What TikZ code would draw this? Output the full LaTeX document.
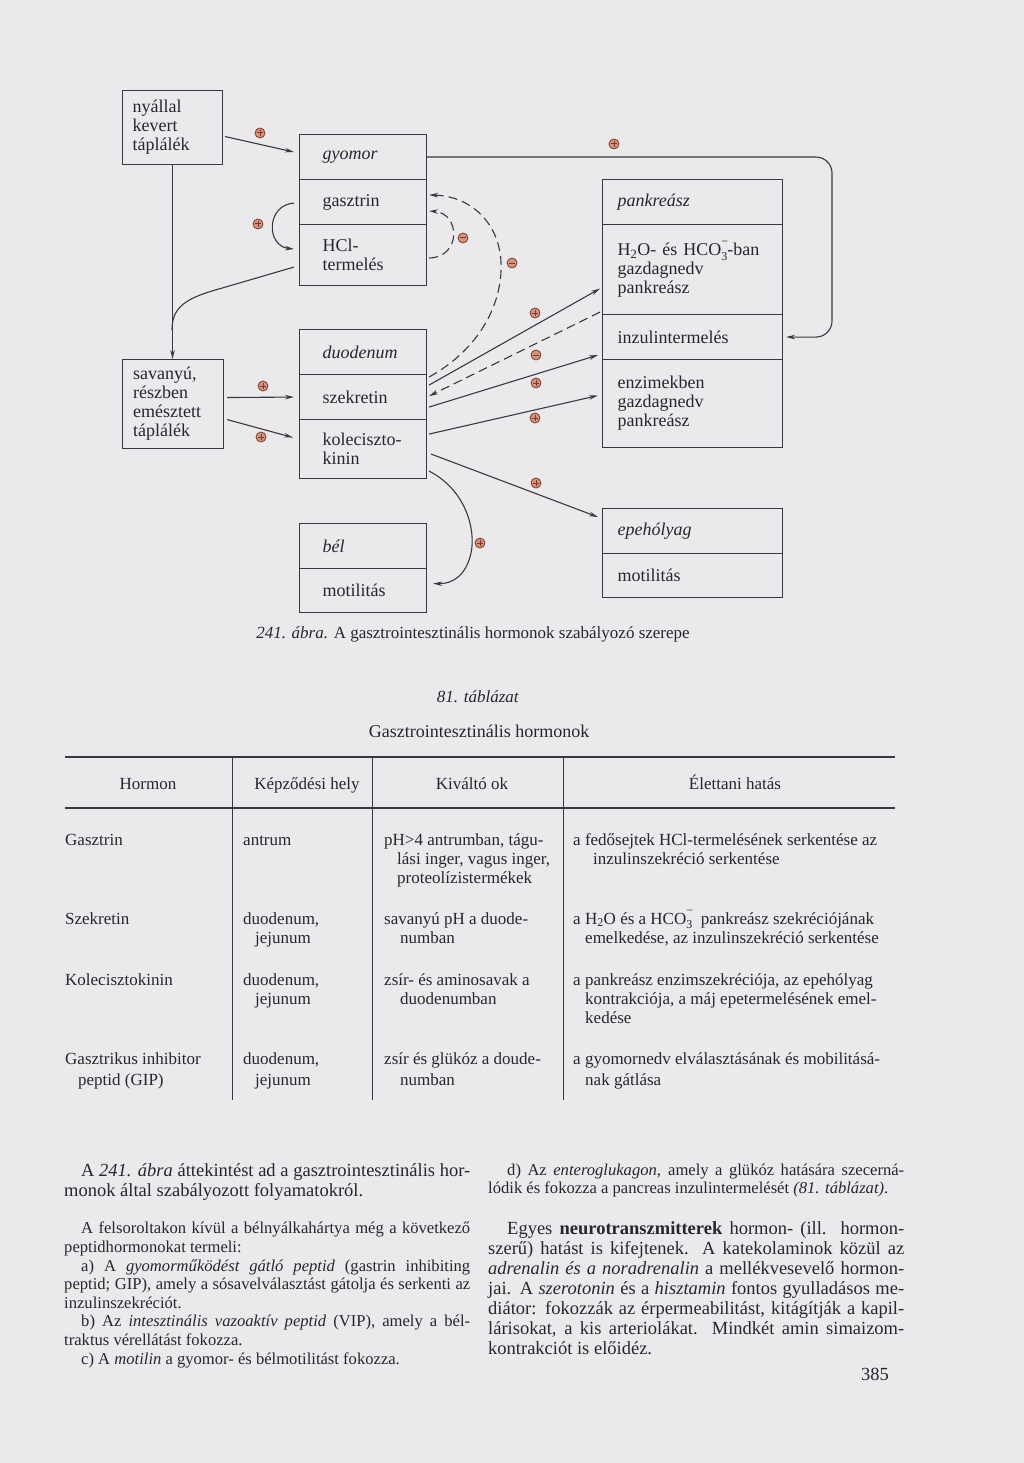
\documentclass[tikz,border=0pt]{standalone}
\usepackage{fontspec}
\setmainfont{Liberation Serif}
\usetikzlibrary{arrows.meta,calc}
\definecolor{paper}{RGB}{236,233,237}
\definecolor{ink}{RGB}{40,38,42}
\definecolor{lc}{RGB}{58,56,60}
\definecolor{sgnd}{RGB}{130,55,40}
\definecolor{sgnf}{RGB}{206,150,128}
\newcommand{\dfont}{\fontsize{18}{19}\selectfont}
\newcommand{\tfont}{\fontsize{17}{19}\selectfont}
\newcommand{\bigtxt}{\fontsize{18.5}{20}\selectfont}
\newcommand{\smtxt}{\fontsize{16.6}{18.7}\selectfont}
\newcommand{\ionthree}{\rlap{\raisebox{0.55em}{\fontsize{12}{12}\selectfont −}}\raisebox{-0.25em}{\fontsize{12}{12}\selectfont 3}}
\newcommand{\tcell}[4]{\node[tcs] (#1) at (#2,#3) {#4};}
\tikzset{
  rowA/.style={draw=lc, line width=1.1pt, anchor=north west, inner sep=0pt,
    minimum width=127pt, text width=81pt, align=left, font=\dfont, text=ink},
  rowP/.style={rowA, minimum width=180pt, text width=150pt},
  rowL/.style={rowA, minimum width=100pt, text width=80pt},
  arr/.style={-{Stealth[length=9pt,width=4.5pt]}, draw=lc, line width=1.1pt},
  ln/.style={draw=lc, line width=1.1pt},
  dsh/.style={dash pattern=on 9pt off 5pt},
  sgn/.style={circle, draw=sgnd, fill=sgnf, line width=0.8pt, minimum size=10pt, inner sep=0pt},
  plus/.style={sgn, path picture={\draw[sgnd, line width=1pt]
      ($(path picture bounding box.center)+(-3.3,0)$) -- ++(6.6,0)
      ($(path picture bounding box.center)+(0,-3.3)$) -- ++(0,6.6);}},
  minus/.style={sgn, path picture={\draw[sgnd, line width=1pt]
      ($(path picture bounding box.center)+(-3.3,0)$) -- ++(6.6,0);}},
  tcs/.style={anchor=base west, inner sep=0pt, font=\tfont, text=ink},
  jl/.style={anchor=base west, inner sep=0pt, text=ink},
  rule/.style={draw=lc, line width=1.0pt},
}
\begin{document}
\begin{tikzpicture}[x=1pt,y=-1pt]
\fill[paper] (0,0) rectangle (1024,1463);
\useasboundingbox (0,0) rectangle (1024,1463);

% ---------- diagram boxes ----------
\node[rowL, minimum height=74pt] (ny) at (122,90) {nyállal\\kevert\\táplálék};
\node[rowA, minimum height=45pt] (gy) at (299,134) {\textit{gyomor}};
\node[rowA, minimum height=45pt] (ga) at (299,179) {gasztrin};
\node[rowA, minimum height=61pt] (hcl) at (299,224) {HCl-\\termelés};
\node[rowL, minimum width=101pt, minimum height=89pt] (sav) at (122,359) {savanyú,\\részben\\emésztett\\táplálék};
\node[rowA, minimum height=45pt] (duo) at (299,329) {\textit{duodenum}};
\node[rowA, minimum height=45pt] (sz) at (299,374) {szekretin};
\node[rowA, minimum height=59pt] (kk) at (299,419) {koleciszto-\\kinin};
\node[rowA, minimum height=45pt] (bel) at (299,523) {\textit{bél}};
\node[rowA, minimum height=44pt] (mot) at (299,568) {motilitás};
\node[rowP, minimum height=45pt] (pk) at (602,179) {\textit{pankreász}};
\node[rowP, minimum height=90pt] (h2o) at (602,224) {H\textsubscript{2}O- és HCO\ionthree-ban\\gazdagnedv\\pankreász};
\node[rowP, minimum height=45pt] (inz) at (602,314) {inzulintermelés};
\node[rowP, minimum height=88pt] (enz) at (602,359) {enzimekben\\gazdagnedv\\pankreász};
\node[rowP, minimum height=45pt] (epe) at (602,508) {\textit{epehólyag}};
\node[rowP, minimum height=44pt] (emot) at (602,553) {motilitás};

% ---------- connectors ----------
\coordinate (merge) at (172,330);
\coordinate (rr) at (832,0);
\draw[arr] ($(ny.east)+(2,9)$) -- ($(gy.west)+(-5,-5)$);
\draw[arr] (ny.south) -- (ny.south |- sav.north);
\draw[ln] ($(hcl.west)+(-5,12)$) -- (212,291) .. controls (182,300) and (172,310) .. (merge);
\draw[arr] ($(ga.west)+(-5,1)$) .. controls (266,205) and (266,246) .. ($(hcl.west)+(-5,-6)$);
\draw[arr,dsh] ($(hcl.east)+(2,3)$) .. controls (462,257) and (460,213) .. ($(ga.east)+(2,9)$);
\draw[arr,dsh] ($(sz.north east)+(2,3)$) .. controls (478,350) and (503,305) .. (501,262)
   .. controls (499,222) and (470,196) .. ($(ga.north east)+(2,16)$);
\draw[arr] ($(sz.east)+(2,-12)$) -- ($(h2o.west)+(-2,19)$);
\draw[arr,dsh] ($(h2o.south west)+(-2,-3)$) -- ($(sz.east)+(2,-1)$);
\draw[arr] ($(sz.east)+(2,10)$) -- ($(inz.west)+(-4,18)$);
\draw[arr] ($(kk.east)+(2,-15)$) -- ($(enz.west)+(-4,-8)$);
\draw[arr] ($(kk.east)+(4,5)$) -- ($(epe.west)+(-4,-14)$);
\draw[arr] ($(kk.south east)+(2,-8)$) .. controls (466,490) and (476,530) .. (471,553)
   .. controls (466,576) and (452,584) .. ($(mot.east)+(6,-7)$);
\draw[arr] ($(sav.east)+(3,-6.5)$) -- ($(sz.west)+(-5,0)$);
\draw[arr] ($(sav.east)+(3,15.5)$) -- ($(kk.west)+(-6,-11.5)$);
\draw[arr, rounded corners=16pt] (gy.east) -- (gy.east -| rr) -- (inz.east -| rr) -- ($(inz.east)+(3,0)$);

% ---------- signs ----------
\node[plus] (s1) at (260,133) {};
\node[plus] (s2) at (258,224) {};
\node[minus] (s3) at (463,238) {};
\node[minus] (s4) at (512,263) {};
\node[plus] (s5) at (614,144) {};
\node[plus] (s6) at (535,313) {};
\node[minus] (s7) at (536,355) {};
\node[plus] (s8) at (536,383) {};
\node[plus] (s9) at (535,418) {};
\node[plus] (s10) at (536,483) {};
\node[plus] (s11) at (480,543) {};
\node[plus] (s12) at (263,386) {};
\node[plus] (s13) at (261,437) {};

% ---------- caption & table title ----------
\node[anchor=base, inner sep=0pt, font=\tfont, text=ink] (cap) at (473,638) {\textit{241. ábra.} A gasztrointesztinális hormonok szabályozó szerepe};
\node[anchor=base, inner sep=0pt, font=\tfont, text=ink] (tno) at (478,702) {\textit{81. táblázat}};
\node[anchor=base, inner sep=0pt, font=\fontsize{18}{20}\selectfont, text=ink] (ttl) at (479,737) {Gasztrointesztinális hormonok};

% ---------- table ----------
\draw[rule, line width=1.5pt] (65,757) -- (895,757);
\draw[rule, line width=1.2pt] (65,808) -- (895,808);
\draw[rule] (232,757) -- (232,1100);
\draw[rule] (372,757) -- (372,1100);
\draw[rule] (563,757) -- (563,1100);
\node[anchor=base, inner sep=0pt, font=\tfont, text=ink] (h1) at (148,789) {Hormon};
\node[anchor=base, inner sep=0pt, font=\tfont, text=ink] (h2) at (307,789) {Képződési hely};
\node[anchor=base, inner sep=0pt, font=\tfont, text=ink] (h3) at (472,789) {Kiváltó ok};
\node[anchor=base, inner sep=0pt, font=\tfont, text=ink] (h4) at (735,789) {Élettani hatás};

\tcell{a1}{65}{845}{Gasztrin}
\tcell{a2}{243}{845}{antrum}
\tcell{a3}{384}{845}{pH>4 antrumban, tágu-}
\tcell{a4}{397}{864}{lási inger, vagus inger,}
\tcell{a5}{397}{883}{proteolízistermékek}
\tcell{a6}{573}{845}{a fedősejtek HCl-termelésének serkentése az}
\tcell{a7}{593}{864}{inzulinszekréció serkentése}

\tcell{b1}{65}{924}{Szekretin}
\tcell{b2}{243}{924}{duodenum,}
\tcell{b3}{255}{943}{jejunum}
\tcell{b4}{384}{924}{savanyú pH a duode-}
\tcell{b5}{400}{943}{numban}
\tcell{b6}{573}{924}{a H\textsubscript{2}O és a HCO\ionthree\ \ pankreász szekréciójának}
\tcell{b7}{585}{943}{emelkedése, az inzulinszekréció serkentése}

\tcell{c1}{65}{985}{Kolecisztokinin}
\tcell{c2}{243}{985}{duodenum,}
\tcell{c3}{255}{1004}{jejunum}
\tcell{c4}{384}{985}{zsír- és aminosavak a}
\tcell{c5}{400}{1004}{duodenumban}
\tcell{c6}{573}{985}{a pankreász enzimszekréciója, az epehólyag}
\tcell{c7}{585}{1004}{kontrakciója, a máj epetermelésének emel-}
\tcell{c8}{585}{1023}{kedése}

\tcell{d1}{65}{1064}{Gasztrikus inhibitor}
\tcell{d2}{78}{1085}{peptid (GIP)}
\tcell{d3}{243}{1064}{duodenum,}
\tcell{d4}{255}{1085}{jejunum}
\tcell{d5}{384}{1064}{zsír és glükóz a doude-}
\tcell{d6}{400}{1085}{numban}
\tcell{d7}{573}{1064}{a gyomornedv elválasztásának és mobilitásá-}
\tcell{d8}{585}{1085}{nak gátlása}

% ---------- body text, left column ----------
\node[jl, font=\bigtxt] (l1) at (81,1176) {\makebox[389pt][s]{A \textit{241. ábra} áttekintést ad a gasztrointesztinális hor-}};
\node[jl, font=\bigtxt] (l2) at (64,1196) {monok által szabályozott folyamatokról.};
\node[jl, font=\smtxt] (l3) at (81,1233) {\makebox[389pt][s]{A felsoroltakon kívül a bélnyálkahártya még a következő}};
\node[jl, font=\smtxt] (l4) at (64,1252) {peptidhormonokat termeli:};
\node[jl, font=\smtxt] (l5) at (81,1271) {\makebox[389pt][s]{a) A \textit{gyomorműködést gátló peptid} (gastrin inhibiting}};
\node[jl, font=\smtxt] (l6) at (64,1289) {\makebox[406pt][s]{peptid; GIP), amely a sósavelválasztást gátolja és serkenti az}};
\node[jl, font=\smtxt] (l7) at (64,1308) {inzulinszekréciót.};
\node[jl, font=\smtxt] (l8) at (81,1326) {\makebox[389pt][s]{b) Az \textit{intesztinális vazoaktív peptid} (VIP), amely a bél-}};
\node[jl, font=\smtxt] (l9) at (64,1345) {traktus vérellátást fokozza.};
\node[jl, font=\smtxt] (l10) at (81,1364) {c) A \textit{motilin} a gyomor- és bélmotilitást fokozza.};

% ---------- body text, right column ----------
\node[jl, font=\smtxt] (r1) at (507,1175) {\makebox[397pt][s]{d) Az \textit{enteroglukagon}, amely a glükóz hatására szecerná-}};
\node[jl, font=\smtxt] (r2) at (488,1193) {lódik és fokozza a pancreas inzulintermelését \textit{(81. táblázat)}.};
\node[jl, font=\bigtxt] (r3) at (507,1234) {\makebox[397pt][s]{Egyes \textbf{neurotranszmitterek} hormon- (ill. hormon-}};
\node[jl, font=\bigtxt] (r4) at (488,1254) {\makebox[416pt][s]{szerű) hatást is kifejtenek. A katekolaminok közül az}};
\node[jl, font=\bigtxt] (r5) at (488,1274) {\makebox[416pt][s]{\textit{adrenalin és a noradrenalin} a mellékvesevelő hormon-}};
\node[jl, font=\bigtxt] (r6) at (488,1294) {\makebox[416pt][s]{jai. A \textit{szerotonin} és a \textit{hisztamin} fontos gyulladásos me-}};
\node[jl, font=\bigtxt] (r7) at (488,1314) {\makebox[416pt][s]{diátor: fokozzák az érpermeabilitást, kitágítják a kapil-}};
\node[jl, font=\bigtxt] (r8) at (488,1334) {\makebox[416pt][s]{lárisokat, a kis arteriolákat. Mindkét amin simaizom-}};
\node[jl, font=\bigtxt] (r9) at (488,1354) {kontrakciót is előidéz.};
\node[anchor=base east, inner sep=0pt, font=\bigtxt, text=ink] (pg) at (889,1380) {385};
\end{tikzpicture}
\end{document}
